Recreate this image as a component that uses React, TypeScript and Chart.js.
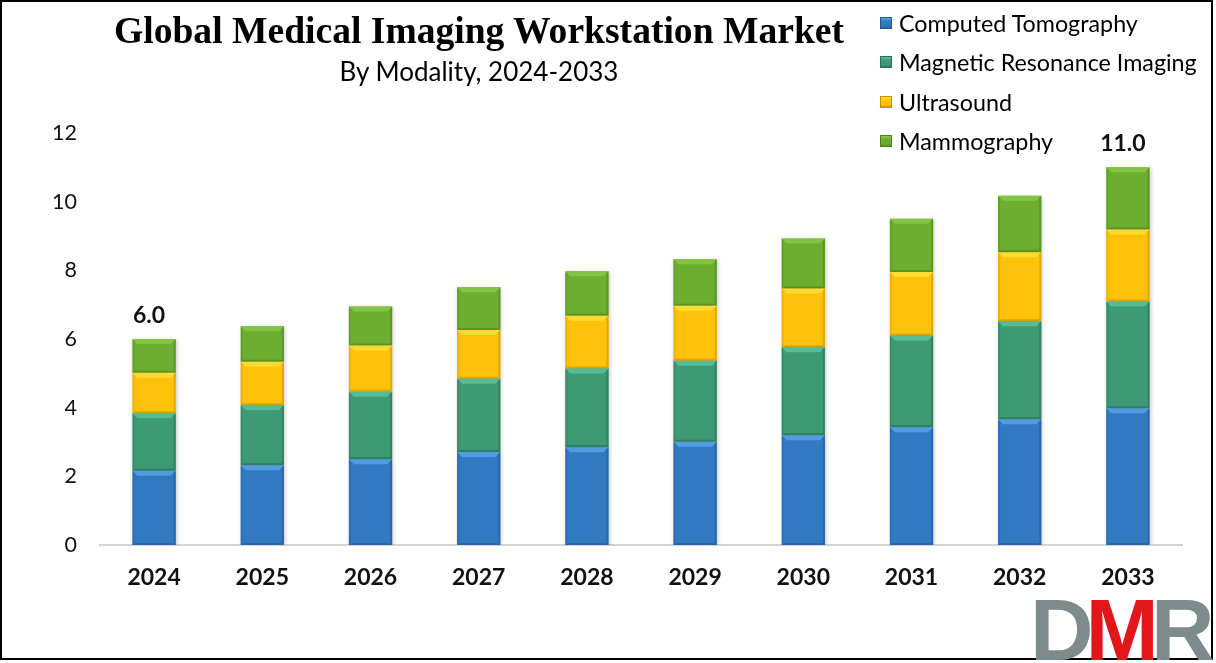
import React, { useEffect, useRef } from "react";
import { Chart, registerables } from "chart.js";

Chart.register(...registerables);

const years = ["2024", "2025", "2026", "2027", "2028", "2029", "2030", "2031", "2032", "2033"];
const computedTomography = [2.16, 2.32, 2.5, 2.71, 2.85, 3.01, 3.2, 3.43, 3.66, 3.98];
const magneticResonance = [1.68, 1.75, 1.96, 2.13, 2.29, 2.36, 2.56, 2.67, 2.86, 3.11];
const ultrasound = [1.18, 1.27, 1.35, 1.42, 1.54, 1.6, 1.71, 1.85, 2.01, 2.1];
const mammography = [0.98, 1.03, 1.14, 1.25, 1.29, 1.35, 1.46, 1.55, 1.64, 1.81];
const totalLabels = ["6.0", "", "", "", "", "", "", "", "", "11.0"];
const seriesNames = ["Computed Tomography", "Magnetic Resonance Imaging", "Ultrasound", "Mammography"];
const titleText = "Global Medical Imaging Workstation Market";
const subtitleText = "By Modality, 2024-2033";

const FONT = "Lato, 'Noto Sans', sans-serif";

const palette = [
  { base: "#3179C1", light: "#5AA4E8", dark: "#23599A" },
  { base: "#3D9A74", light: "#5CC3A0", dark: "#2B7054" },
  { base: "#FFC20A", light: "#FFE03A", dark: "#C99200" },
  { base: "#6DAE30", light: "#88CB48", dark: "#4E8420" },
];

const bevelPlugin = {
  id: "bevel",
  beforeDatasetsDraw(chart: any) {
    const ctx = chart.ctx;
    ctx.save();
    ctx.shadowColor = "rgba(0,0,0,0.22)";
    ctx.shadowBlur = 4;
    ctx.shadowOffsetX = 1;
    ctx.shadowOffsetY = 1;
  },
  afterDatasetsDraw(chart: any) {
    const ctx = chart.ctx;
    ctx.restore();
    chart.data.datasets.forEach((_ds: any, di: number) => {
      const meta = chart.getDatasetMeta(di);
      const sh = palette[di];
      meta.data.forEach((el: any) => {
        const p = el.getProps(["x", "y", "base", "width"], true);
        const l = p.x - p.width / 2;
        const r = p.x + p.width / 2;
        const t = Math.min(p.y, p.base);
        const b = Math.max(p.y, p.base);
        const bv = Math.min(5, (b - t) / 3);
        ctx.save();
        ctx.globalAlpha = 0.8;
        ctx.fillStyle = sh.light;
        ctx.beginPath();
        ctx.moveTo(l, t);
        ctx.lineTo(r, t);
        ctx.lineTo(r - bv, t + bv);
        ctx.lineTo(l + bv, t + bv);
        ctx.closePath();
        ctx.fill();
        ctx.fillStyle = sh.dark;
        ctx.globalAlpha = 0.55;
        ctx.beginPath();
        ctx.moveTo(r, t);
        ctx.lineTo(r, b);
        ctx.lineTo(r - 2, b - 2);
        ctx.lineTo(r - 2, t + 2);
        ctx.closePath();
        ctx.fill();
        ctx.beginPath();
        ctx.moveTo(l, b);
        ctx.lineTo(r, b);
        ctx.lineTo(r - 2, b - 2);
        ctx.lineTo(l + 2, b - 2);
        ctx.closePath();
        ctx.fill();
        ctx.globalAlpha = 0.3;
        ctx.beginPath();
        ctx.moveTo(l, t);
        ctx.lineTo(l, b);
        ctx.lineTo(l + 2, b - 2);
        ctx.lineTo(l + 2, t + 2);
        ctx.closePath();
        ctx.fill();
        ctx.restore();
      });
    });
    const lastMeta = chart.getDatasetMeta(chart.data.datasets.length - 1);
    ctx.save();
    ctx.font = `bold 23px ${FONT}`;
    ctx.fillStyle = "#111";
    ctx.textAlign = "center";
    ctx.textBaseline = "bottom";
    totalLabels.forEach((txt, i) => {
      if (!txt) return;
      const el = lastMeta.data[i];
      ctx.fillText(txt, el.x - 5, el.y - 12);
    });
    ctx.restore();
  },
};

function LegendBox({ c }: { c: { base: string; light: string; dark: string } }) {
  return (
    <span
      style={{
        display: "inline-block",
        width: 12,
        height: 12,
        boxSizing: "border-box",
        background: `linear-gradient(180deg, ${c.light} 0%, ${c.base} 35%, ${c.base} 80%, ${c.dark} 100%)`,
        border: `1px solid ${c.dark}`,
        marginRight: 7,
        verticalAlign: "middle",
      }}
    />
  );
}

export default function App() {
  const canvasRef = useRef<HTMLCanvasElement | null>(null);

  useEffect(() => {
    const canvas = canvasRef.current;
    if (!canvas) return;
    const data = [computedTomography, magneticResonance, ultrasound, mammography];
    const chart = new Chart(canvas, {
      type: "bar",
      data: {
        labels: years,
        datasets: data.map((d, i) => ({
          label: seriesNames[i],
          data: d,
          backgroundColor: palette[i].base,
          borderWidth: 0,
          barPercentage: 0.4,
          categoryPercentage: 1,
        })),
      },
      options: {
        responsive: false,
        animation: false,
        layout: { padding: { top: 133, right: 34, bottom: 0, left: 0 } },
        plugins: {
          legend: { display: false },
          title: { display: false },
          tooltip: { enabled: false },
        },
        scales: {
          x: {
            stacked: true,
            grid: { display: false, drawTicks: false },
            border: { display: true, color: "#D4D4D4", width: 2 },
            ticks: {
              padding: 19,
              color: "#111",
              font: { family: FONT, size: 23, weight: "bold" },
            },
            afterFit: (s: any) => {
              s.height = 118;
            },
          },
          y: {
            stacked: true,
            min: 0,
            max: 12,
            grid: { display: false, drawTicks: false },
            border: { display: false },
            ticks: {
              stepSize: 2,
              padding: 23,
              color: "#111",
              font: { family: FONT, size: 21.5 },
            },
            afterFit: (s: any) => {
              s.width = 100;
            },
          },
        },
      },
      plugins: [bevelPlugin],
    } as any);
    return () => chart.destroy();
  }, []);

  return (
    <div
      style={{
        position: "absolute",
        left: 0,
        top: 0,
        width: 1216,
        height: 663,
        background: "#fff",
        overflow: "hidden",
      }}
    >
      <canvas ref={canvasRef} width={1216} height={663} style={{ position: "absolute", left: 0, top: 0 }} />
      <div
        style={{
          position: "absolute",
          left: 0,
          top: 0,
          width: 1213,
          height: 660,
          border: "2px solid #000",
          boxSizing: "border-box",
          pointerEvents: "none",
        }}
      />
      <div
        style={{
          position: "absolute",
          left: 79,
          width: 800,
          top: 9,
          textAlign: "center",
          fontFamily: "'Liberation Serif', 'Times New Roman', serif",
          fontWeight: "bold",
          fontSize: 37.6,
          lineHeight: "44px",
          color: "#000",
          whiteSpace: "nowrap",
        }}
      >
        {titleText}
      </div>
      <div
        style={{
          position: "absolute",
          left: 79,
          width: 800,
          top: 55,
          textAlign: "center",
          fontFamily: FONT,
          fontSize: 26,
          lineHeight: "32px",
          color: "#000",
          whiteSpace: "nowrap",
        }}
      >
        {subtitleText}
      </div>
      <div style={{ position: "absolute", left: 880, top: 5, fontFamily: FONT, fontSize: 23.3, color: "#000" }}>
        {seriesNames.map((n, i) => (
          <div key={n} style={{ height: 39.3, lineHeight: "30px", whiteSpace: "nowrap" }}>
            <LegendBox c={palette[i]} />
            <span style={{ verticalAlign: "middle" }}>{n}</span>
          </div>
        ))}
      </div>
      <div
        style={{
          position: "absolute",
          left: 1030,
          top: 580,
          fontFamily: "'Liberation Sans', Arial, sans-serif",
          fontWeight: "bold",
          fontSize: 88,
          lineHeight: "100px",
          letterSpacing: -8,
          whiteSpace: "nowrap",
        }}
      >
        <span style={{ color: "#7D8B8C" }}>D</span>
        <span style={{ color: "#E3161C" }}>M</span>
        <span style={{ color: "#7D8B8C" }}>R</span>
      </div>
    </div>
  );
}
